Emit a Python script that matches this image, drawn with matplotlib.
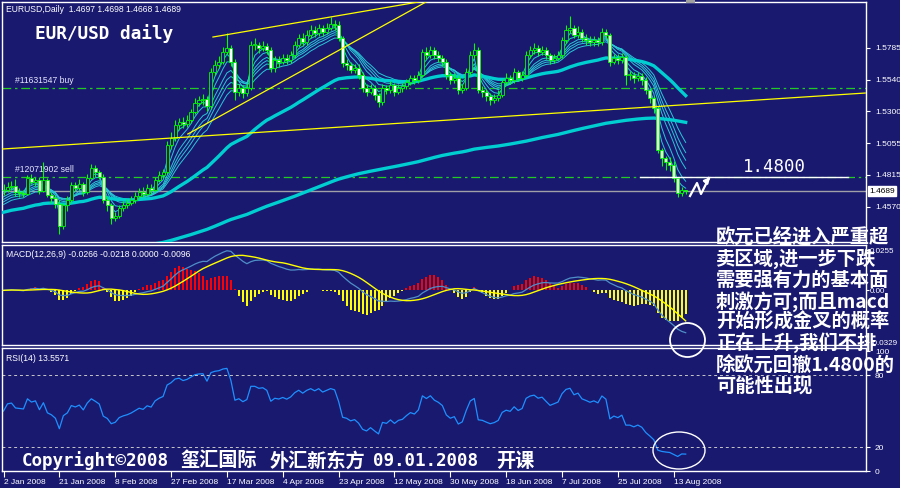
import numpy as np
import matplotlib
matplotlib.use('Agg')
import matplotlib.pyplot as plt
from matplotlib.patches import Rectangle, Ellipse

plt.rcParams['font.family'] = ['Liberation Sans', 'DejaVu Sans']

# EURUSD daily, prices x 1e-4 (open of each bar = previous close)
first_open = 14700
close = [
    14697, 14720, 14730, 14680, 14675, 14670, 14790, 14760, 14775, 14690,
    14775, 14660, 14635, 14590, 14420, 14580, 14620, 14735, 14715, 14745,
    14680, 14790, 14866, 14835, 14800, 14620, 14580, 14480, 14498, 14560,
    14583, 14598, 14620, 14650, 14680, 14667, 14710, 14697, 14774, 14810,
    14835, 15040, 15096, 15195, 15220, 15200, 15230, 15295, 15364, 15387,
    15394, 15340, 15600, 15655, 15680, 15755, 15785, 15680, 15450, 15480,
    15440, 15480, 15810, 15810, 15785, 15800, 15770, 15630, 15690, 15680,
    15710, 15690, 15730, 15810, 15860, 15830, 15885, 15920, 15900, 15940,
    15910, 15940, 15970, 15960, 15860, 15670, 15655, 15617, 15630, 15580,
    15480, 15450, 15480, 15425, 15370, 15480, 15465, 15500, 15450, 15480,
    15490, 15525, 15555, 15540, 15580, 15755, 15730, 15770, 15730, 15710,
    15680, 15580, 15540, 15555, 15460, 15480, 15600, 15730, 15770, 15460,
    15450, 15417, 15387, 15400, 15425, 15525, 15555, 15540, 15600, 15555,
    15580, 15730, 15770, 15785, 15755, 15770, 15730, 15690, 15710, 15730,
    15846, 15920, 15940, 15885, 15910, 15860, 15846, 15830, 15846, 15830,
    15910, 15885, 15680, 15710, 15690, 15715, 15580, 15580, 15555, 15570,
    15540, 15460, 15400, 15325, 15000, 14940, 14912, 14890, 14790, 14675,
    14697, 14689]
high = [
    14745, 14760, 14770, 14780, 14710, 14700, 14810, 14820, 14800, 14800,
    14910, 14790, 14680, 14660, 14620, 14600, 14650, 14760, 14760, 14780,
    14760, 14820, 14900, 14890, 14850, 14820, 14650, 14600, 14530, 14580,
    14610, 14630, 14650, 14680, 14710, 14720, 14740, 14740, 14800, 14840,
    14860, 15070, 15140, 15230, 15250, 15260, 15270, 15320, 15400, 15420,
    15430, 15420, 15630, 15690, 15720, 15790, 15900, 15810, 15700, 15510,
    15500, 15510, 15840, 15860, 15830, 15840, 15820, 15790, 15720, 15720,
    15740, 15740, 15760, 15840, 15890, 15900, 15920, 15960, 15950, 15970,
    15960, 15980, 16020, 16000, 15990, 15880, 15700, 15680, 15660, 15660,
    15600, 15510, 15510, 15500, 15440, 15510, 15500, 15530, 15520, 15510,
    15520, 15550, 15580, 15580, 15610, 15780, 15790, 15800, 15790, 15760,
    15730, 15700, 15600, 15590, 15580, 15510, 15630, 15760, 15820, 15790,
    15490, 15470, 15440, 15430, 15460, 15550, 15590, 15580, 15630, 15620,
    15610, 15760, 15800, 15820, 15810, 15800, 15790, 15750, 15740, 15760,
    15870, 15960, 16030, 15960, 15950, 15930, 15890, 15880, 15880, 15870,
    15940, 15930, 15900, 15740, 15740, 15750, 15730, 15610, 15600, 15600,
    15590, 15560, 15480, 15420, 15340, 15020, 14960, 14950, 14920, 14800,
    14720, 14698]
low = [
    14660, 14680, 14700, 14650, 14640, 14640, 14660, 14740, 14730, 14670,
    14680, 14640, 14600, 14560, 14360, 14400, 14540, 14600, 14690, 14700,
    14650, 14670, 14780, 14800, 14780, 14600, 14540, 14440, 14460, 14480,
    14540, 14560, 14580, 14600, 14630, 14640, 14650, 14670, 14680, 14760,
    14790, 14820, 15010, 15070, 15160, 15170, 15180, 15210, 15280, 15340,
    15350, 15300, 15320, 15580, 15630, 15660, 15740, 15650, 15390, 15420,
    15400, 15420, 15460, 15770, 15750, 15760, 15740, 15600, 15600, 15640,
    15660, 15660, 15670, 15710, 15790, 15800, 15810, 15860, 15870, 15880,
    15880, 15890, 15920, 15920, 15840, 15640, 15620, 15590, 15590, 15550,
    15450, 15420, 15430, 15390, 15330, 15350, 15430, 15440, 15420, 15430,
    15450, 15470, 15500, 15510, 15520, 15560, 15700, 15710, 15700, 15680,
    15650, 15550, 15510, 15520, 15430, 15440, 15460, 15580, 15710, 15440,
    15410, 15380, 15350, 15360, 15380, 15410, 15500, 15510, 15520, 15530,
    15530, 15560, 15710, 15740, 15720, 15730, 15700, 15660, 15670, 15690,
    15710, 15820, 15900, 15860, 15860, 15830, 15810, 15800, 15800, 15800,
    15810, 15850, 15650, 15660, 15660, 15670, 15500, 15540, 15520, 15530,
    15500, 15430, 15360, 15290, 14980, 14880, 14850, 14840, 14760, 14640,
    14650, 14668]

# moving average ribbon: spans and start values read at the left edge
thin_spans = [3, 5, 8, 10, 12, 15]
thin_seeds = [1.468, 1.466, 1.463, 1.461, 1.459, 1.457]
mid_span, mid_seed = 50, 1.452
long_span, long_seed = 200, 1.410

date_labels = ['2 Jan 2008', '21 Jan 2008', '8 Feb 2008', '27 Feb 2008', '17 Mar 2008',
               '4 Apr 2008', '23 Apr 2008', '12 May 2008', '30 May 2008', '18 Jun 2008',
               '7 Jul 2008', '25 Jul 2008', '13 Aug 2008']
price_ticks = [1.5785, 1.5540, 1.5300, 1.5055, 1.4815, 1.4570]
buy_level, sell_level, last_price = 1.5476, 1.4800, 1.4689
target_level = 1.4800

# hand drawn trend lines (bar index, price)
trend_lines = [((-0.4, 1.5011), (216.0, 1.5440)),
               ((52.5, 1.5869), (108.0, 1.6158)),
               ((46.2, 1.5126), (108.0, 1.6173))]

note_lines = ['欧元已经进入严重超', '卖区域,进一步下跌', '需要强有力的基本面',
              '刺激方可;而且macd', '开始形成金叉的概率', '正在上升,我们不排',
              '除欧元回撤1.4800的', '可能性出现']

BG = '#191970'
GREEN = '#00ff00'

c = np.array(close) / 1e4
h = np.array(high) / 1e4
l = np.array(low) / 1e4
o = np.concatenate([[first_open / 1e4], c[:-1]])
n = len(c)
x = np.arange(n)


def ema(vals, span, seed):
    a = 2.0 / (span + 1)
    out = []
    e = seed
    for v in vals:
        e += a * (v - e)
        out.append(e)
    return np.array(out)


fig = plt.figure(figsize=(9, 4.88), dpi=100, facecolor=BG)
W, H = 900.0, 488.0


def ax_at(x0, y0, x1, y1):
    a = fig.add_axes([x0 / W, 1 - y1 / H, (x1 - x0) / W, (y1 - y0) / H])
    a.set_facecolor(BG)
    for s in a.spines.values():
        s.set_color('white')
        s.set_linewidth(1.0)
    return a


xl = (-0.38, 216.2)
ax = ax_at(2, 1.5, 866, 242)
am = ax_at(2, 245, 866, 345)
ar = ax_at(2, 348, 866, 471)
for a in (ax, am, ar):
    a.set_xlim(*xl)
    a.tick_params(colors='white', labelcolor='white', labelsize=6, length=3, width=0.8)
    a.yaxis.tick_right()
    a.set_xticks([])

# ---- price panel
ax.set_ylim(1.4299, 1.6141)
for i in range(n):
    ax.vlines(i, l[i], h[i], color=GREEN, lw=0.8, zorder=4)
    bot = min(o[i], c[i])
    ht = max(abs(c[i] - o[i]), 0.0002)
    fc = 'white' if c[i] < o[i] else BG
    ax.add_patch(Rectangle((i - 0.38, bot), 0.76, ht, facecolor=fc, edgecolor=GREEN,
                           lw=0.6, zorder=5))

for sp, sd in zip(thin_spans, thin_seeds):
    ax.plot(x, ema(c, sp, sd), color='#28c8d8', lw=0.7, zorder=3)
ax.plot(x, ema(c, mid_span, mid_seed), color='#00ced1', lw=2.4, zorder=3)
ax.plot(x, ema(c, long_span, long_seed), color='#00ced1', lw=2.4, zorder=3)

for (x0, y0), (x1, y1) in trend_lines:
    ax.plot([x0, x1], [y0, y1], color='#ffff00', lw=0.9, zorder=6)

ax.axhline(buy_level, color='#22cc22', lw=0.9, ls=(0, (7, 3, 2, 3)), zorder=2)
ax.axhline(sell_level, color='#22cc22', lw=0.9, ls=(0, (7, 3, 2, 3)), zorder=2)
ax.axhline(last_price, color='#a0a0a8', lw=1.0, zorder=2)
ax.plot([159.5, 211.6], [target_level, target_level], color='white', lw=1.0, zorder=6)

ax.set_yticks(price_ticks)
ax.set_yticklabels(['%.4f' % p for p in price_ticks])
ax.annotate('%.4f' % last_price, xy=(1, last_price), xycoords=('axes fraction', 'data'),
            xytext=(2.5, 0), textcoords='offset points', va='center', ha='left',
            fontsize=6, color='black',
            bbox=dict(boxstyle='square,pad=0.15', fc='white', ec='white'))

ax.text(0.005, 0.985, 'EURUSD,Daily  1.4697 1.4698 1.4668 1.4689', transform=ax.transAxes,
        color='white', fontsize=6.2, va='top', ha='left')
ax.text(3, buy_level + 0.0022, '#11631547 buy', color='#e6e6ff', fontsize=6.2, va='bottom')
ax.text(3, sell_level + 0.0022, '#12071902 sell', color='#e6e6ff', fontsize=6.2, va='bottom')

# ---- MACD panel
e12 = ema(c, 12, c[0])
e26 = ema(c, 26, c[0])
macd = e12 - e26
signal = np.array([macd[max(0, i - 8):i + 1].mean() for i in range(n)])
hist = 2 * (macd - signal)
am.set_ylim(-0.0347, 0.0288)
pos = hist >= 0
am.vlines(x[pos], 0, hist[pos], colors='#ff0000', lw=1.1, antialiased=False, zorder=2)
am.vlines(x[~pos], 0, hist[~pos], colors='#ffff00', lw=1.1, antialiased=False, zorder=2)
am.plot(x, macd, color='#4f8fc8', lw=0.9, zorder=3)
am.plot(x, signal, color='#ffff00', lw=1.0, zorder=4)
am.set_yticks([0.0255, 0.0, -0.0329])
am.set_yticklabels(['0.0255', '0.00', '-0.0329'])
am.tick_params(axis='y', length=2, pad=1, labelsize=5.8)
am.text(0.005, 0.95, 'MACD(12,26,9) -0.0266 -0.0218 0.0000 -0.0096', transform=am.transAxes,
        color='white', fontsize=6.2, va='top', ha='left')

# ---- RSI panel
d = np.diff(c)
ag, al = 0.0030, 0.0025
rsi = [50.0]
for v in d:
    ag = (ag * 13 + max(v, 0)) / 14
    al = (al * 13 + max(-v, 0)) / 14
    rsi.append(100 - 100 / (1 + ag / al))
ar.set_ylim(0, 102.5)
ar.plot(x, rsi, color='#1e90ff', lw=0.9)
for lv in (80, 20):
    ar.axhline(lv, color='#c8c8c8', lw=0.7, ls=(0, (3, 3)))
ar.set_yticks([100, 80, 20, 0])
ar.text(0.005, 0.95, 'RSI(14) 13.5571', transform=ar.transAxes,
        color='white', fontsize=6.2, va='top', ha='left')
ar.set_xticks(np.arange(len(date_labels)) * 14)
ar.set_xticklabels(date_labels, ha='left')
ar.tick_params(axis='x', length=4, pad=1.5, labelsize=6)

# ---- overlay annotations (pixel coordinates)
ov = fig.add_axes([0, 0, 1, 1], zorder=10)
ov.set_xlim(0, W)
ov.set_ylim(H, 0)
ov.axis('off')
ov.patch.set_alpha(0)

ov.add_patch(Rectangle((686, 0), 9, 3, fc='#a0a0a0', ec='none'))
ov.text(35, 34, 'EUR/USD daily', family='DejaVu Sans Mono', weight='bold',
        fontsize=12.8, color='white', va='center', ha='left')
ov.text(743, 167, '1.4800', family='DejaVu Sans Mono', fontsize=12.5,
        color='white', va='center', ha='left')
ov.plot([690, 697, 701, 709], [196, 183, 194, 178], color='white', lw=1.6)
ov.annotate('', xy=(712, 175), xytext=(705, 183),
            arrowprops=dict(arrowstyle='-|>', color='white', lw=1.6, mutation_scale=8))

ov.add_patch(Ellipse((687.5, 340), 35, 34, fill=False, ec='white', lw=1.3))
ov.add_patch(Ellipse((679, 450.5), 52, 37, fill=False, ec='white', lw=1.0))

ys = [236.5, 259, 280.5, 301.5, 322, 343, 365, 386]
for s, yy in zip(note_lines, ys):
    ov.text(716, yy, s, family=['Noto Sans CJK SC', 'DejaVu Sans'], weight='bold',
            fontsize=13.9, color='white', va='center', ha='left')

cy = 461
mono = 'DejaVu Sans Mono'
cjk = ['Noto Sans CJK SC', 'DejaVu Sans']
ov.text(22, cy, 'Copyright©2008', family=mono, weight='bold', fontsize=12.6,
        color='white', va='center', ha='left')
ov.text(180, cy, '玺汇国际', family=cjk, weight='bold', fontsize=13.8,
        color='white', va='center', ha='left')
ov.text(270, cy, '外汇新东方', family=cjk, weight='bold', fontsize=13.8,
        color='white', va='center', ha='left')
ov.text(373, cy, '09.01.2008', family=mono, weight='bold', fontsize=12.6,
        color='white', va='center', ha='left')
ov.text(496, cy, '开课', family=cjk, weight='bold', fontsize=13.8,
        color='white', va='center', ha='left')

fig.savefig('out.png', dpi=100, facecolor=BG)
